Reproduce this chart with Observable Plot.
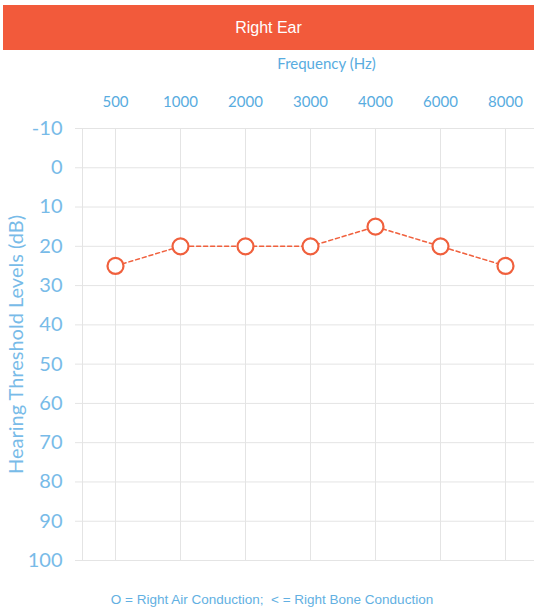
<!DOCTYPE html>
<html>
<head>
<meta charset="utf-8">
<script src="https://cdn.jsdelivr.net/npm/d3@7"></script>
<script src="https://cdn.jsdelivr.net/npm/@observablehq/plot@0.6"></script>
<style>
  html, body { margin: 0; padding: 0; background: #fff; width: 534px; height: 609px; overflow: hidden; }
  #banner { margin-top: 5px; margin-left: 3px; height: 45px; background: #f25a3b; color: #fff;
    font: 16px "Liberation Sans", Arial, sans-serif; display: flex; align-items: center; justify-content: center; }
  #chart svg { display: block; }
  #caption { height: 29px; font: 13.5px "Liberation Sans", Arial, sans-serif; color: #62b0e2; text-align: center; line-height: 40px; padding-left: 10px; white-space: nowrap; }
</style>
</head>
<body>
<div id="banner">Right Ear</div>
<div id="chart"></div>
<div id="caption">O = Right Air Conduction;&nbsp; &lt; = Right Bone Conduction</div>
<script>
const frequencies = ["500", "1000", "2000", "3000", "4000", "6000", "8000"];
const airConduction = [25, 20, 20, 20, 15, 20, 25];
const yTicks = [-10, 0, 10, 20, 30, 40, 50, 60, 70, 80, 90, 100];

const data = frequencies.map((f, i) => ({freq: f, level: airConduction[i]}));
const orange = "#f0603d";
const grid = "#e4e4e4";

const chart = Plot.plot({
  width: 534,
  height: 530,
  marginTop: 78,
  marginBottom: 20,
  marginLeft: 82,
  marginRight: 0,
  style: {fontFamily: "Lato, 'Open Sans', sans-serif", background: "#fff"},
  x: {type: "point", domain: frequencies, range: [82.5, 537.5], padding: 0.5},
  y: {domain: [-10, 100], reverse: true},
  marks: [
    Plot.ruleY(yTicks, {stroke: grid, strokeWidth: 1, insetLeft: -7}),
    Plot.ruleX(frequencies, {stroke: grid, strokeWidth: 1}),
    Plot.frame({anchor: "left", stroke: grid, strokeOpacity: 1}),
    Plot.axisX({anchor: "top", tickSize: 0, tickPadding: 22, fontSize: 15, color: "#58ace0",
      label: null}),
    Plot.text(["Frequency (Hz)"], {frameAnchor: "top", lineAnchor: "middle", dx: 18, dy: -64, fontSize: 15, fill: "#58ace0"}),
    Plot.axisY(yTicks, {anchor: "left", tickSize: 0, tickPadding: 20, fontSize: 20, color: "#78bbe8",
      tickFormat: d => String(d),
      label: "Hearing Threshold Levels (dB)", labelAnchor: "center", labelOffset: 74, labelArrow: "none"}),
    Plot.line(data, {x: "freq", y: "level", stroke: orange, strokeWidth: 1.5, strokeDasharray: "4,3"}),
    Plot.dot(data, {x: "freq", y: "level", r: 8, stroke: orange, strokeWidth: 2.2, fill: "#fff"})
  ]
});
document.getElementById("chart").appendChild(chart);
</script>
</body>
</html>
